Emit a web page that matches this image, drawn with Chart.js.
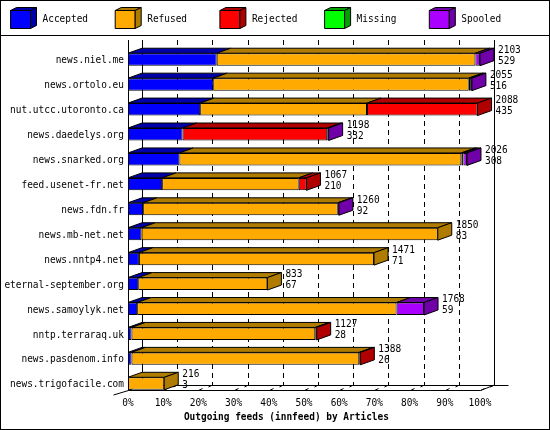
<!DOCTYPE html>
<html>
<head>
<meta charset="utf-8">
<script src="https://cdn.jsdelivr.net/npm/chart.js@4/dist/chart.umd.min.js"></script>
<style>
  html, body { margin: 0; padding: 0; background: #fff; }
  #wrap { width: 550px; height: 430px; position: relative; }
</style>
</head>
<body>
<div id="wrap"><canvas id="chart" width="550" height="430"></canvas></div>
<script>
// Data (percent of the biggest feed)
const feeds = ['news.niel.me', 'news.ortolo.eu', 'nut.utcc.utoronto.ca', 'news.daedelys.org',
  'news.snarked.org', 'feed.usenet-fr.net', 'news.fdn.fr', 'news.mb-net.net', 'news.nntp4.net',
  'eternal-september.org', 'news.samoylyk.net', 'nntp.terraraq.uk', 'news.pasdenom.info',
  'news.trigofacile.com'];
const accepted = [25.2, 24.2, 20.5, 15.5, 14.6, 9.7, 4.3, 3.8, 3.1, 2.9, 2.6, 1.0, 1.0, 0];
const refused  = [73.5, 72.6, 47.4, 0, 80.1, 38.8, 55.3, 84.2, 66.8, 36.7, 73.7, 52.2, 64.7, 10.3];
const rejected = [0, 0.4, 31.4, 41.1, 0.6, 2.2, 0, 0, 0, 0, 0, 0.4, 0.3, 0];
const missing  = [0, 0, 0, 0, 0, 0, 0, 0, 0, 0, 0, 0, 0, 0];
const spooled  = [1.3, 0.5, 0, 0.4, 1.0, 0, 0.3, 0, 0, 0, 7.8, 0, 0, 0];
const totals   = [2103, 2055, 2088, 1198, 2026, 1067, 1260, 1850, 1471, 833, 1768, 1127, 1388, 216];
const acceptedCounts = [529, 516, 435, 332, 308, 210, 92, 83, 71, 67, 59, 28, 26, 3];
const xTicks = [0, 10, 20, 30, 40, 50, 60, 70, 80, 90, 100];
const seriesNames = ['Accepted', 'Refused', 'Rejected', 'Missing', 'Spooled'];

const fronts = ['#0000ff', '#ffaa00', '#ff0000', '#00ff00', '#aa00ff'];
const shades = ['#0000a8', '#b07c00', '#b00000', '#00a000', '#7000a8'];
const DX = 14, DY = 5;
const FONT = '11px "DejaVu Sans Mono", monospace';
const SQUEEZE = 0.86;

function poly(ctx, pts, fill) {
  ctx.beginPath();
  ctx.moveTo(pts[0][0], pts[0][1]);
  for (let i = 1; i < pts.length; i++) ctx.lineTo(pts[i][0], pts[i][1]);
  ctx.closePath();
  ctx.fillStyle = fill;
  ctx.fill();
  ctx.stroke();
}

// narrow pixel-font look: squeeze text horizontally
function text(ctx, str, x, y, align, font) {
  ctx.save();
  ctx.font = font || FONT;
  ctx.fillStyle = '#000';
  ctx.textAlign = align;
  ctx.textBaseline = 'middle';
  ctx.translate(x, y);
  ctx.scale(SQUEEZE, 1);
  ctx.fillText(str, 0, 0);
  ctx.restore();
}

const backdrop = {
  id: 'backdrop',
  beforeDatasetsDraw(chart) {
    const ctx = chart.ctx;
    const xs = chart.scales.x;
    const top = 40, floor = 390;
    ctx.save();
    ctx.strokeStyle = '#000';
    ctx.lineWidth = 1;
    ctx.setLineDash([5, 4]);
    xTicks.slice(1, -1).forEach(t => {
      const x = Math.round(xs.getPixelForValue(t)) + DX + 0.5;
      ctx.beginPath(); ctx.moveTo(x, top); ctx.lineTo(x, floor - DY); ctx.stroke();
    });
    ctx.setLineDash([]);
    const x0 = Math.round(xs.getPixelForValue(0)) + 0.5;
    const x1 = Math.round(xs.getPixelForValue(100)) + 0.5;
    ctx.beginPath();
    ctx.moveTo(x0 + DX, top); ctx.lineTo(x0 + DX, floor - DY);
    ctx.moveTo(x1 + DX, top); ctx.lineTo(x1 + DX, floor - DY);
    ctx.moveTo(x0, top); ctx.lineTo(x0, floor + 0.5);
    ctx.moveTo(x0 + DX, floor - DY + 0.5); ctx.lineTo(x1 + DX + 14, floor - DY + 0.5);
    ctx.moveTo(x0 - 15, floor + 5); ctx.lineTo(x0, floor + 0.5); ctx.lineTo(x1, floor + 0.5);
    ctx.lineTo(x1 + DX, floor - DY);
    ctx.stroke();
    xTicks.forEach(t => {
      const x = Math.round(xs.getPixelForValue(t)) + 0.5;
      ctx.beginPath(); ctx.moveTo(x, floor + 0.5); ctx.lineTo(x + 4, floor - 1.5);
      ctx.moveTo(x + DX - 4, floor - DY + 2); ctx.lineTo(x + DX, floor - DY); ctx.stroke();
    });
    ctx.restore();
  },
  afterDatasetsDraw(chart) {
    const ctx = chart.ctx;
    const xs = chart.scales.x;
    ctx.save();
    ctx.strokeStyle = '#000';
    ctx.lineWidth = 1;
    feeds.forEach((name, i) => {
      let last = null;
      chart.data.datasets.forEach((ds, d) => {
        const el = chart.getDatasetMeta(d).data[i];
        if (!ds.data[i]) return;
        const t = el.y - el.height / 2, l = el.base, r = el.x;
        poly(ctx, [[l, t], [r, t], [r + DX, t - DY], [l + DX, t - DY]], shades[d]);
        last = { el, d, t };
      });
      if (last) {
        const { el, d, t } = last;
        const b = el.y + el.height / 2, r = el.x;
        poly(ctx, [[r, t], [r + DX, t - DY], [r + DX, b - DY], [r, b]], shades[d]);
        text(ctx, String(totals[i]), r + DX + 4, t - 3, 'left');
        text(ctx, String(acceptedCounts[i]), r + DX + 4, t + 8, 'left');
      }
      const y = chart.scales.y.getPixelForValue(i);
      text(ctx, name, 124, y + 1, 'right');
    });
    xTicks.forEach(t => text(ctx, t + '%', xs.getPixelForValue(t), 403, 'center'));
    text(ctx, 'Outgoing feeds (innfeed) by Articles', xs.getPixelForValue(45), 417, 'center',
      'bold 11px "DejaVu Sans Mono", monospace');
    ctx.restore();
  },
  afterDraw(chart) {
    const ctx = chart.ctx;
    ctx.save();
    ctx.strokeStyle = '#000';
    ctx.lineWidth = 1;
    ctx.strokeRect(0.5, 0.5, 549, 429);
    ctx.beginPath(); ctx.moveTo(0, 35.5); ctx.lineTo(550, 35.5); ctx.stroke();
    seriesNames.forEach((n, k) => {
      const x = 10.5 + k * 104.7, y = 10.5;
      poly(ctx, [[x, y], [x + 20, y], [x + 20, y + 18], [x, y + 18]], fronts[k]);
      poly(ctx, [[x, y], [x + 20, y], [x + 26, y - 3], [x + 6, y - 3]], shades[k]);
      poly(ctx, [[x + 20, y], [x + 26, y - 3], [x + 26, y + 15], [x + 20, y + 18]], shades[k]);
      text(ctx, n, x + 32, y + 9, 'left');
    });
    ctx.restore();
  }
};

const seriesData = [accepted, refused, rejected, missing, spooled];

new Chart(document.getElementById('chart'), {
  type: 'bar',
  data: {
    labels: feeds,
    datasets: seriesNames.map((n, k) => ({
      label: n,
      data: seriesData[k],
      backgroundColor: fronts[k],
      borderColor: '#000',
      borderWidth: 1,
      borderSkipped: false,
      barPercentage: 0.5,
      categoryPercentage: 1
    }))
  },
  options: {
    indexAxis: 'y',
    responsive: false,
    animation: false,
    layout: { padding: { left: 128, right: 70, top: 47, bottom: 34 } },
    scales: {
      x: { stacked: true, min: 0, max: 100, display: false },
      y: { stacked: true, display: false }
    },
    plugins: { legend: { display: false }, tooltip: { enabled: false } }
  },
  plugins: [backdrop]
});
</script>
</body>
</html>
